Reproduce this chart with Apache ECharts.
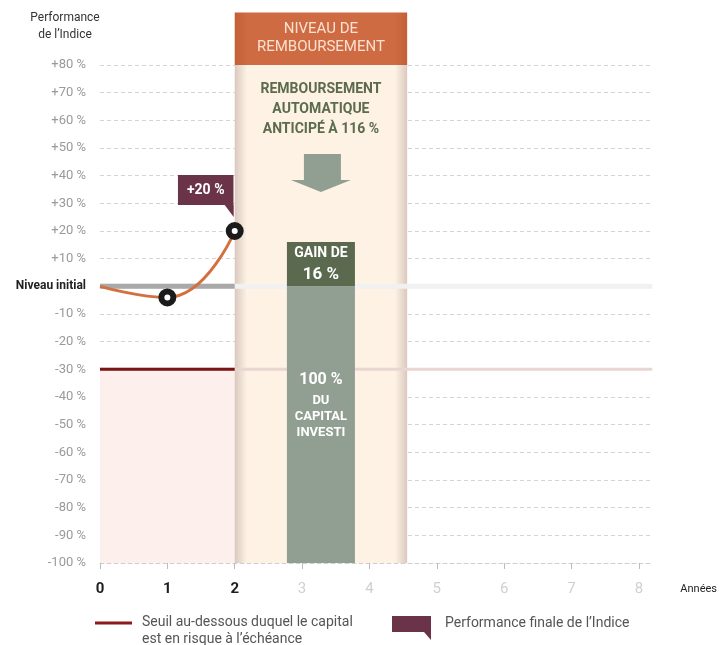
<!DOCTYPE html>
<html>
<head>
<meta charset="utf-8">
<script src="https://cdn.jsdelivr.net/npm/echarts@6/dist/echarts.min.js"></script>
<style>
  html, body { margin: 0; padding: 0; background: #fff; }
  #chart { width: 720px; height: 645px; }
</style>
</head>
<body>
<div id="chart"></div>
<script>
  // x axis: years
  const years = [0, 1, 2, 3, 4, 5, 6, 7, 8];
  const pastYears = [0, 1, 2];
  // index performance (%) observed at each past year
  const indexPerf = [0, -4, 20];
  // levels (%)
  const initialLevel = 0;
  const riskThreshold = -30;
  // payout bar: capital returned + gain (%)
  const capitalShare = -100;
  const gainShare = 16;
  const payoutYear = 3.28;
  // repayment column (years) and its header (%)
  const columnYears = [2, 4.56];
  const headerLevels = [80, 99];

  const FONT = 'Roboto, "Noto Sans", sans-serif';
  const xEnd = 8.2;
  const lastYear = pastYears[pastYears.length - 1];

  let chart = echarts.init(document.getElementById('chart'));

  let edgeShade = (edge, mid) => new echarts.graphic.LinearGradient(0, 0, 1, 0, [
    { offset: 0, color: edge },
    { offset: 0.07, color: mid },
    { offset: 0.93, color: mid },
    { offset: 1, color: edge }
  ]);

  let legendGraphics = [
    {
      type: 'text', x: 65, y: 9,
      style: { text: 'Performance\nde l\u2019Indice', align: 'center', verticalAlign: 'top',
               fontSize: 12, lineHeight: 17, fill: '#333', fontFamily: FONT }
    },
    {
      type: 'line', shape: { x1: 95, y1: 623, x2: 132, y2: 623 },
      style: { stroke: '#8b1a1a', lineWidth: 3 }
    },
    {
      type: 'text', x: 142, y: 614,
      style: { text: 'Seuil au-dessous duquel le capital\nest en risque \u00e0 l\u2019\u00e9ch\u00e9ance',
               verticalAlign: 'top', fontSize: 14, lineHeight: 17, fill: '#555', fontFamily: FONT }
    },
    {
      type: 'polygon',
      shape: { points: [[392, 616], [431, 616], [431, 640], [424, 632], [392, 632]] },
      style: { fill: '#6b3347' }
    },
    {
      type: 'text', x: 445, y: 623,
      style: { text: 'Performance finale de l\u2019Indice', verticalAlign: 'middle',
               fontSize: 14, fill: '#555', fontFamily: FONT }
    }
  ];

  let option = {
    animation: false,
    textStyle: { fontFamily: FONT },
    grid: { left: 100, right: 63, top: 65, bottom: 82 },
    xAxis: {
      type: 'value',
      min: 0,
      max: xEnd,
      name: 'Années',
      nameLocation: 'end',
      nameGap: 28,
      nameTextStyle: { color: '#222', fontSize: 11, verticalAlign: 'top', padding: [21, 0, 0, 0] },
      axisLine: { onZero: false, lineStyle: { color: '#cfcfcf', type: [4, 3] } },
      axisTick: { customValues: years, length: 6, lineStyle: { color: '#bbb' } },
      axisLabel: {
        customValues: years,
        margin: 19,
        formatter: v => pastYears.includes(v) ? '{past|' + v + '}' : '{future|' + v + '}',
        rich: {
          past: { color: '#1e1e1e', fontWeight: 'bold', fontSize: 15 },
          future: { color: '#d0d0d0', fontSize: 15 }
        }
      },
      splitLine: { show: false }
    },
    yAxis: {
      type: 'value',
      min: -100,
      max: 80,
      interval: 10,
      axisLine: { show: false },
      axisTick: { show: false },
      axisLabel: {
        margin: 14,
        color: '#9a9a9a',
        fontSize: 13,
        formatter: v => v === initialLevel ? '{init|Niveau initial}' : (v > 0 ? '+' + v + ' %' : v + ' %'),
        rich: {
          init: { color: '#222', fontWeight: 'bold', fontSize: 12 }
        }
      },
      splitLine: { lineStyle: { color: '#d4d4d4', type: [4, 3] } }
    },
    graphic: legendGraphics,
    series: [
      {
        // risk zone below the threshold, during elapsed years
        type: 'line', data: [[0, initialLevel]], showSymbol: false, z: 1,
        lineStyle: { opacity: 0 }, silent: true,
        markArea: {
          silent: true,
          data: [[
            { coord: [0, riskThreshold], itemStyle: { color: '#fcefec' } },
            { coord: [lastYear, -100] }
          ]]
        }
      },
      {
        type: 'line', data: [[0, initialLevel], [xEnd, initialLevel]], symbol: 'none', z: 2, silent: true,
        lineStyle: { color: '#f1f1f1', width: 5 }
      },
      {
        type: 'line', data: [[0, riskThreshold], [xEnd, riskThreshold]], symbol: 'none', z: 2, silent: true,
        lineStyle: { color: '#e8d6d0', width: 3 }
      },
      {
        // repayment column
        type: 'line', data: [[0, initialLevel]], showSymbol: false, z: 3,
        lineStyle: { opacity: 0 }, silent: true,
        markArea: {
          silent: true,
          data: [[
            {
              coord: [columnYears[0], headerLevels[0]],
              itemStyle: { color: edgeShade('#dac8be', '#fdf2e4') },
              label: {
                show: true, position: 'insideTop', distance: 14,
                formatter: 'REMBOURSEMENT\nAUTOMATIQUE\nANTICIP\u00c9 \u00c0 116 %',
                color: '#5b6b4d', fontWeight: 'bold', fontSize: 14, lineHeight: 20, align: 'center'
              }
            },
            { coord: [columnYears[1], -100] }
          ]]
        }
      },
      {
        type: 'line', data: [[0, initialLevel], [lastYear, initialLevel]], symbol: 'none', z: 4, silent: true,
        lineStyle: { color: '#a9a9a9', width: 5 }
      },
      {
        type: 'line', data: [[0, riskThreshold], [lastYear, riskThreshold]], symbol: 'none', z: 4, silent: true,
        lineStyle: { color: '#7a1515', width: 3 }
      },
      {
        name: 'Capital',
        type: 'bar', z: 5, barWidth: 68, barGap: '-100%',
        data: [[payoutYear, capitalShare]],
        itemStyle: { color: '#919f93' },
        label: {
          show: true, position: 'inside', offset: [0, -21],
          formatter: '{a|' + Math.abs(capitalShare) + ' %}\n{b|DU}\n{b|CAPITAL}\n{b|INVESTI}',
          rich: {
            a: { color: '#fff', fontWeight: 'bold', fontSize: 16, lineHeight: 26 },
            b: { color: '#fff', fontWeight: 'bold', fontSize: 13, lineHeight: 16 }
          }
        }
      },
      {
        name: 'Gain',
        type: 'bar', z: 5, barWidth: 68, barGap: '-100%',
        data: [[payoutYear, gainShare]],
        itemStyle: { color: '#5b6a4e' },
        label: {
          show: true, position: 'inside',
          formatter: '{a|GAIN DE}\n{b|' + gainShare + ' %}',
          rich: {
            a: { color: '#fff', fontWeight: 'bold', fontSize: 14, lineHeight: 22 },
            b: { color: '#fff', fontWeight: 'bold', fontSize: 17, lineHeight: 22 }
          }
        }
      },
      {
        // down arrow above the payout bar
        type: 'scatter', z: 6, silent: true,
        data: [[payoutYear, 41]],
        symbol: 'path://M13,0 L50,0 L50,26 L60,26 L30,38 L0,26 L13,26 Z',
        symbolSize: [60, 38],
        itemStyle: { color: '#919f93', opacity: 1 }
      },
      {
        name: 'Performance',
        type: 'line', z: 7, smooth: true,
        data: pastYears.map((y, i) => ({
          value: [y, indexPerf[i]],
          symbol: i === 0 ? 'none' : 'circle'
        })),
        symbolSize: 12,
        lineStyle: { color: '#d4703f', width: 3 },
        itemStyle: { color: '#fff', borderColor: '#1b1b1b', borderWidth: 6 }
      },
      {
        // callout with the final index performance
        type: 'scatter', z: 8, silent: true,
        data: [[lastYear, indexPerf[indexPerf.length - 1]]],
        symbol: 'path://M0,0 L9,0 L9,12 Z',
        symbolSize: [9, 12],
        symbolOffset: [-5.5, -20],
        itemStyle: { color: '#6b3347', opacity: 1 },
        label: {
          show: true, position: 'inside', offset: [-23.5, -21],
          formatter: p => '+' + p.value[1] + ' %',
          backgroundColor: '#6b3347', padding: [7, 9],
          color: '#fff', fontWeight: 'bold', fontSize: 14, lineHeight: 16
        }
      }
    ]
  };
  chart.setOption(option);

  // header of the repayment column sits above the plot, so place it from the axes
  let hTop = chart.convertToPixel({ gridIndex: 0 }, [columnYears[0], headerLevels[1]]);
  let hBot = chart.convertToPixel({ gridIndex: 0 }, [columnYears[1], headerLevels[0]]);
  chart.setOption({
    graphic: legendGraphics.concat([
      {
        type: 'rect', z: 10,
        shape: { x: hTop[0], y: hTop[1], width: hBot[0] - hTop[0], height: hBot[1] - hTop[1] },
        style: { fill: edgeShade('#c25f38', '#cf6b42') }
      },
      {
        type: 'text', z: 11,
        x: (hTop[0] + hBot[0]) / 2, y: (hTop[1] + hBot[1]) / 2,
        style: { text: 'NIVEAU DE\nREMBOURSEMENT', align: 'center', verticalAlign: 'middle',
                 fontSize: 15, lineHeight: 18, fill: '#fbe1d2', fontFamily: FONT }
      }
    ])
  });
</script>
</body>
</html>
